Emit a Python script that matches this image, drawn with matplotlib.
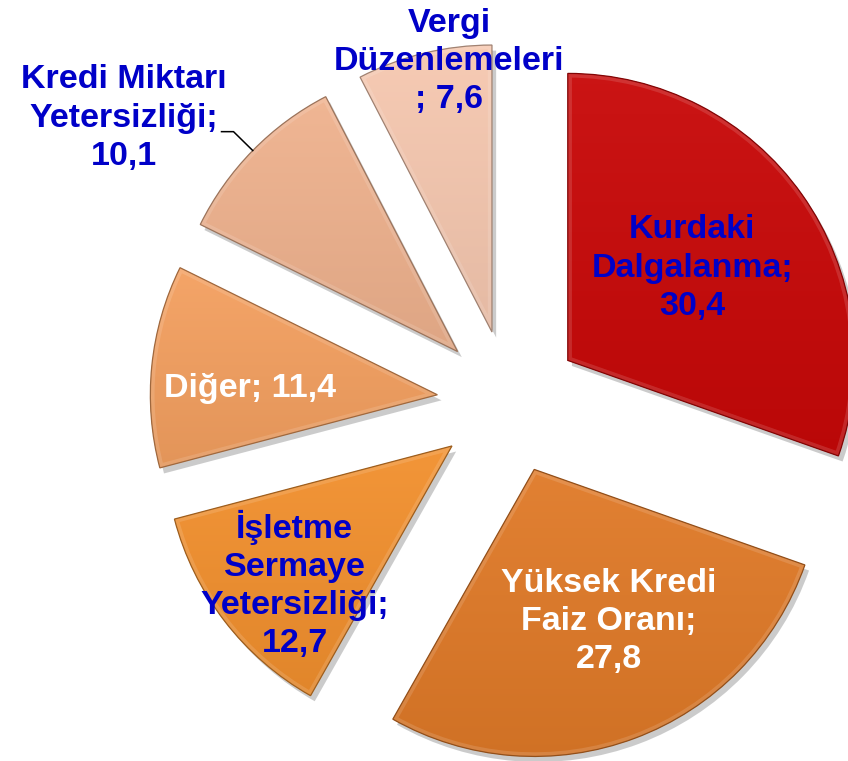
import numpy as np
import matplotlib
matplotlib.use('Agg')
import matplotlib.pyplot as plt
import matplotlib.patches as mpatches
import matplotlib.patheffects as pe
from matplotlib.colors import to_rgb

# ---- data ----
categories = ['Kurdaki Dalgalanma', 'Yüksek Kredi Faiz Oranı',
              'İşletme Sermaye Yetersizliği', 'Diğer',
              'Kredi Miktarı Yetersizliği', 'Vergi Düzenlemeleri']
values = [30.4, 27.8, 12.7, 11.4, 10.1, 7.6]
label_templates = ['Kurdaki\nDalgalanma;\n{}', 'Yüksek Kredi\nFaiz Oranı;\n{}',
                   'İşletme\nSermaye\nYetersizliği;\n{}', 'Diğer; {}',
                   'Kredi Miktarı\nYetersizliği;\n{}', 'Vergi\nDüzenlemeleri\n; {}']

# ---- style ----
colors = ['#C80808', '#E07A28', '#F2902E', '#F4A060', '#EFB28E', '#F6C8B0']
text_colors = ['#0000C8', 'white', '#0000C8', 'white', '#0000C8', '#0000C8']
# label placement (fraction of radius, angle offset in degrees)
label_r = [0.54, 0.59, 0.73, 0.655, 1.42, 0.955]
label_dt = [1.3, 5.6, 3.7, 3.7, 9.5, -4.7]

W, H = 848, 761
R = 287
EXPL = 72
CENTER = (509, -402)

plt.rcParams['font.family'] = ['Liberation Sans', 'DejaVu Sans']

fig = plt.figure(figsize=(W / 100, H / 100), dpi=100)
ax = fig.add_axes([0, 0, 1, 1])

wedges, _ = ax.pie(values, colors=colors, startangle=90, counterclock=False,
                   radius=R, center=CENTER, explode=[EXPL] * len(values),
                   wedgeprops=dict(linewidth=0))


def mix(c, t, amt):
    c = np.array(to_rgb(c)); t = np.array(to_rgb(t))
    return c + (t - c) * amt


for w, c in zip(wedges, colors):
    w.set_path_effects([pe.SimplePatchShadow(offset=(3, -4), alpha=0.3,
                                             shadow_rgbFace='#555555'),
                        pe.Normal()])
    ext = w.get_path().get_extents()
    top = mix(c, 'white', 0.05)
    bot = mix(c, 'black', 0.07)
    n = 256
    tt = np.linspace(0, 1, n)[:, None]
    grad = top[None, :] * (1 - tt) + bot[None, :] * tt
    img = np.repeat(grad[:, None, :], 2, axis=1)
    im = ax.imshow(img, extent=(ext.x0, ext.x1, ext.y0, ext.y1), origin='upper',
                   aspect='auto', zorder=w.get_zorder() + 0.1, interpolation='bilinear')
    im.set_clip_path(w)
    # bevel highlight
    hl = mpatches.Wedge(w.center, w.r, w.theta1, w.theta2, fill=False,
                        edgecolor=(1, 1, 1, 0.13), linewidth=6,
                        zorder=w.get_zorder() + 0.2)
    ax.add_patch(hl)
    hl.set_clip_path(w)
    edge = mpatches.Wedge(w.center, w.r, w.theta1, w.theta2, fill=False,
                          edgecolor=tuple(mix(c, 'black', 0.35)), linewidth=0.9,
                          zorder=w.get_zorder() + 0.3)
    ax.add_patch(edge)

for i, w in enumerate(wedges):
    tm = np.deg2rad((w.theta1 + w.theta2) / 2 + label_dt[i])
    cx, cy = w.center
    x = cx + label_r[i] * R * np.cos(tm)
    y = cy + label_r[i] * R * np.sin(tm)
    txt = label_templates[i].format(f'{values[i]:.1f}'.replace('.', ','))
    ax.text(x, y, txt, ha='center', va='center', multialignment='center',
            fontsize=24.5, fontweight='bold', color=text_colors[i],
            linespacing=1.3, zorder=10)

# leader line for the outside label (Kredi Miktarı)
w = wedges[4]
tm = np.deg2rad((w.theta1 + w.theta2) / 2)
cx, cy = w.center
p0 = (cx + R * np.cos(tm), cy + R * np.sin(tm))
p1 = (cx + 1.094 * R * np.cos(tm), cy + 1.094 * R * np.sin(tm))
p2 = (p1[0] - 12, p1[1])
ax.plot([p0[0], p1[0], p2[0]], [p0[1], p1[1], p2[1]], color='black', lw=1.1, zorder=9)

ax.set_xlim(0, W)
ax.set_ylim(-H, 0)
ax.set_aspect('equal')
ax.axis('off')
fig.savefig('out.png', dpi=100, facecolor='white')
